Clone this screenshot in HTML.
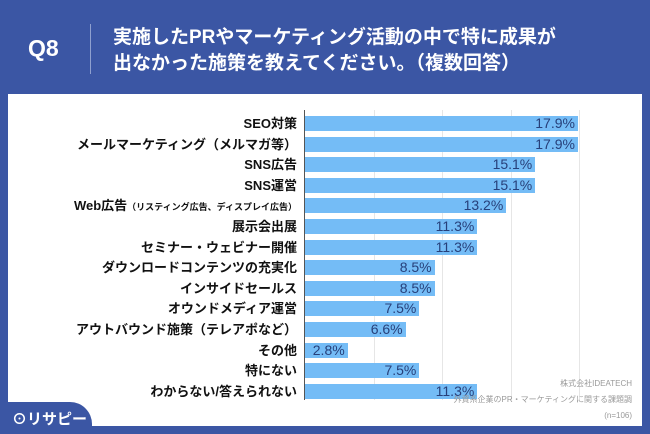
<!DOCTYPE html>
<html><head><meta charset="utf-8"><style>
body{margin:0;width:650px;height:434px;background:#3b56a4;font-family:"Liberation Sans","Noto Sans CJK JP",sans-serif;position:relative;overflow:hidden}
.panel{position:absolute;left:8px;top:94px;width:634px;height:332px;background:#fff}
.q{position:absolute;left:28px;top:35px;color:#fff;font-size:23px;font-weight:bold}
.div{position:absolute;left:90px;top:24px;width:1px;height:50px;background:#8fa0cf}
.t{position:absolute;left:113px;color:#fff;font-size:19px;font-weight:bold;white-space:nowrap}
.lab{position:absolute;right:353px;font-size:13px;font-weight:bold;color:#111;white-space:nowrap;line-height:15px}
.bar{position:absolute;left:305px;height:15px;background:#74bcf6}
.val{position:absolute;font-size:14px;color:#27407a;line-height:15px;text-align:right}
.grid{position:absolute;top:110px;height:290px;width:1px;background:#e6e6e6}
.note{position:absolute;right:18px;font-size:8px;color:#999;text-align:right;line-height:11px}
.logo{position:absolute;left:0;top:402px;width:92px;height:32px;background:#3b56a4;border-top-right-radius:22px}
.logo span{position:absolute;left:12px;top:6px;color:#fff;font-size:15px;font-weight:bold}
</style></head><body>
<div class="q">Q8</div><div class="div"></div>
<div class="t" style="top:22px">実施したPRやマーケティング活動の中で特に成果が</div>
<div class="t" style="top:48px">出なかった施策を教えてください。（複数回答）</div>
<div class="panel"></div>
<div class="grid" style="left:374px"></div><div class="grid" style="left:442px"></div><div class="grid" style="left:511px"></div><div class="grid" style="left:579px"></div>
<div style="position:absolute;left:304px;top:110px;width:1px;height:290px;background:#555"></div>
<div id="rows"></div>
<div class="note" style="top:378px">株式会社IDEATECH</div>
<div class="note" style="top:394px">外資系企業のPR・マーケティングに関する課題調</div>
<div class="note" style="top:410px">(n=106)</div>
<div class="logo"><span>⊙リサピー</span></div>
<script>
var d=[["SEO対策",17.9],["メールマーケティング（メルマガ等）",17.9],["SNS広告",15.1],["SNS運営",15.1],["Web広告<small style='font-size:9px'>（リスティング広告、ディスプレイ広告）</small>",13.2],["展示会出展",11.3],["セミナー・ウェビナー開催",11.3],["ダウンロードコンテンツの充実化",8.5],["インサイドセールス",8.5],["オウンドメディア運営",7.5],["アウトバウンド施策（テレアポなど）",6.6],["その他",2.8],["特にない",7.5],["わからない/答えられない",11.3]];
var h="";d.forEach(function(r,i){var y=116+i*20.6,w=r[1]*15.25;
h+='<div class="lab" style="top:'+y+'px">'+r[0]+'</div><div class="bar" style="top:'+y+'px;width:'+w+'px"></div><div class="val" style="top:'+y+'px;left:'+(305+w-60)+'px;width:57px">'+r[1].toFixed(1)+'%</div>';});
document.getElementById("rows").innerHTML=h;
</script>
</body></html>
